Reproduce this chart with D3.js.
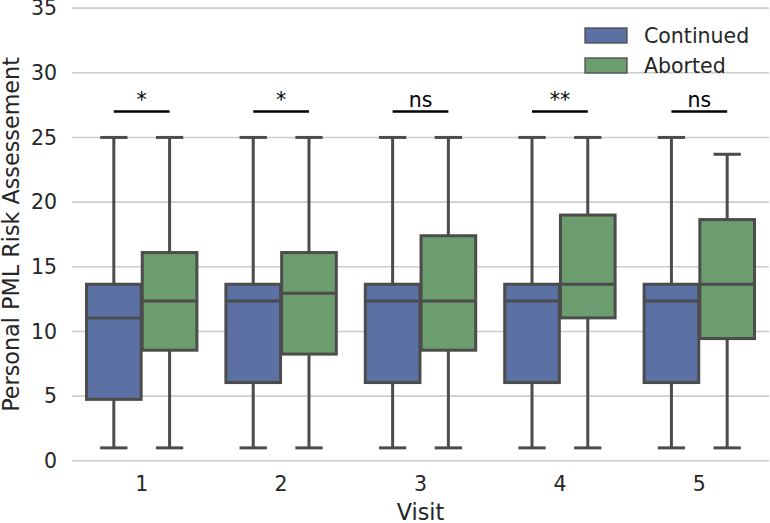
<!DOCTYPE html>
<html>
<head>
<meta charset="utf-8">
<script src="https://cdn.jsdelivr.net/npm/d3@7"></script>
<style>
  html, body { margin: 0; padding: 0; background: #fff; }
  svg { display: block; font-family: "DejaVu Sans", sans-serif; }
</style>
</head>
<body>
<svg id="chart" width="770" height="523"></svg>
<script>
// ---- data ----
const visits = ["1", "2", "3", "4", "5"];
const groups = ["Continued", "Aborted"];
const yTicks = [0, 5, 10, 15, 20, 25, 30, 35];

const continuedMin    = [1, 1, 1, 1, 1];
const continuedQ1     = [4.75, 6.05, 6.05, 6.05, 6.05];
const continuedMedian = [11.05, 12.35, 12.35, 12.35, 12.35];
const continuedQ3     = [13.65, 13.65, 13.65, 13.65, 13.65];
const continuedMax    = [25, 25, 25, 25, 25];

const abortedMin    = [1, 1, 1, 1, 1];
const abortedQ1     = [8.55, 8.25, 8.55, 11.05, 9.45];
const abortedMedian = [12.35, 12.95, 12.35, 13.65, 13.65];
const abortedQ3     = [16.1, 16.1, 17.4, 19.0, 18.65];
const abortedMax    = [25, 25, 25, 25, 23.7];

const significance = ["*", "*", "ns", "**", "ns"];
const significanceLevel = 27;

// ---- build table ----
const series = [
  { name: groups[0], min: continuedMin, q1: continuedQ1, med: continuedMedian, q3: continuedQ3, max: continuedMax },
  { name: groups[1], min: abortedMin, q1: abortedQ1, med: abortedMedian, q3: abortedQ3, max: abortedMax }
];
const boxes = [];
series.forEach(s => visits.forEach((v, i) => boxes.push({
  visit: v, group: s.name, min: s.min[i], q1: s.q1[i], med: s.med[i], q3: s.q3[i], max: s.max[i]
})));

// ---- layout ----
const svg = d3.select("#chart");
const plotLeft = 72, plotRight = 769, plotTop = 8.1, plotBottom = 460.8;
const colors = { "Continued": "#5b71a4", "Aborted": "#6c9d6e" };
const lineColor = "#4c4c4c";
const fontSize = 20.5;

const x = d3.scaleBand().domain(visits).range([plotLeft, plotRight]).padding(0);
const hue = d3.scaleBand().domain(groups).range([0, x.bandwidth() * 0.8]);
const y = d3.scaleLinear().domain([0, 35]).range([plotBottom, plotTop]);
const boxW = hue.bandwidth() * 0.98;
const offset0 = x.bandwidth() * 0.1;

// grid
svg.append("g").selectAll("line").data(yTicks).join("line")
  .attr("x1", plotLeft).attr("x2", plotRight)
  .attr("y1", d => y(d)).attr("y2", d => y(d))
  .attr("stroke", "#cccccc").attr("stroke-width", 1.6);

// y axis (labels only)
const yAxis = d3.axisLeft(y).tickValues(yTicks).tickSize(0).tickPadding(15);
const gy = svg.append("g").attr("transform", `translate(${plotLeft},0)`).call(yAxis);
gy.select(".domain").remove();
gy.selectAll("text").attr("font-size", fontSize).attr("fill", "#262626")
  .attr("font-family", "DejaVu Sans");

// x axis (labels only)
const xAxis = d3.axisBottom(x).tickSize(0).tickPadding(16);
const gx = svg.append("g").attr("transform", `translate(0,${plotBottom})`).call(xAxis);
gx.select(".domain").remove();
gx.selectAll("text").attr("font-size", fontSize).attr("fill", "#262626")
  .attr("font-family", "DejaVu Sans");

// axis titles
svg.append("text").attr("x", (plotLeft + plotRight) / 2).attr("y", 520)
  .attr("text-anchor", "middle").attr("font-size", 22.3).attr("fill", "#262626")
  .text("Visit");
svg.append("text")
  .attr("transform", `translate(18.5,${(plotTop + plotBottom) / 2}) rotate(-90)`)
  .attr("text-anchor", "middle").attr("font-size", 22.3).attr("fill", "#262626")
  .text("Personal PML Risk Assessement");

// boxes
const cx = d => x(d.visit) + offset0 + hue(d.group) + hue.bandwidth() / 2;
const g = svg.append("g").selectAll("g").data(boxes).join("g");
const lw = 3;
// whiskers
g.append("line").attr("x1", cx).attr("x2", cx)
  .attr("y1", d => y(d.q3)).attr("y2", d => y(d.max))
  .attr("stroke", lineColor).attr("stroke-width", lw);
g.append("line").attr("x1", cx).attr("x2", cx)
  .attr("y1", d => y(d.q1)).attr("y2", d => y(d.min))
  .attr("stroke", lineColor).attr("stroke-width", lw);
// caps
g.append("line").attr("x1", d => cx(d) - boxW / 4).attr("x2", d => cx(d) + boxW / 4)
  .attr("y1", d => y(d.max)).attr("y2", d => y(d.max))
  .attr("stroke", lineColor).attr("stroke-width", lw);
g.append("line").attr("x1", d => cx(d) - boxW / 4).attr("x2", d => cx(d) + boxW / 4)
  .attr("y1", d => y(d.min)).attr("y2", d => y(d.min))
  .attr("stroke", lineColor).attr("stroke-width", lw);
// box
g.append("rect").attr("x", d => cx(d) - boxW / 2).attr("width", boxW)
  .attr("y", d => y(d.q3)).attr("height", d => y(d.q1) - y(d.q3))
  .attr("fill", d => colors[d.group]).attr("stroke", lineColor).attr("stroke-width", lw);
// median
g.append("line").attr("x1", d => cx(d) - boxW / 2).attr("x2", d => cx(d) + boxW / 2)
  .attr("y1", d => y(d.med)).attr("y2", d => y(d.med))
  .attr("stroke", lineColor).attr("stroke-width", lw);

// significance annotations
const ann = svg.append("g").selectAll("g").data(visits).join("g");
const c0 = v => x(v) + offset0 + hue(groups[0]) + hue.bandwidth() / 2;
const c1 = v => x(v) + offset0 + hue(groups[1]) + hue.bandwidth() / 2;
ann.append("line").attr("x1", c0).attr("x2", c1)
  .attr("y1", y(significanceLevel)).attr("y2", y(significanceLevel))
  .attr("stroke", "#000").attr("stroke-width", 2.6);
ann.append("text").attr("x", v => (c0(v) + c1(v)) / 2).attr("y", y(significanceLevel) - 4.5)
  .attr("text-anchor", "middle").attr("font-size", fontSize).attr("fill", "#000")
  .text((v, i) => significance[i]);

// legend
const leg = svg.append("g").selectAll("g").data(groups).join("g")
  .attr("transform", (d, i) => `translate(585,${28 + i * 30})`);
leg.append("rect").attr("width", 42).attr("height", 15)
  .attr("fill", d => colors[d]).attr("stroke", lineColor).attr("stroke-width", 1.3);
leg.append("text").attr("x", 59).attr("y", 7.5).attr("dy", "0.35em")
  .attr("font-size", fontSize).attr("fill", "#262626").text(d => d);
</script>
</body>
</html>
